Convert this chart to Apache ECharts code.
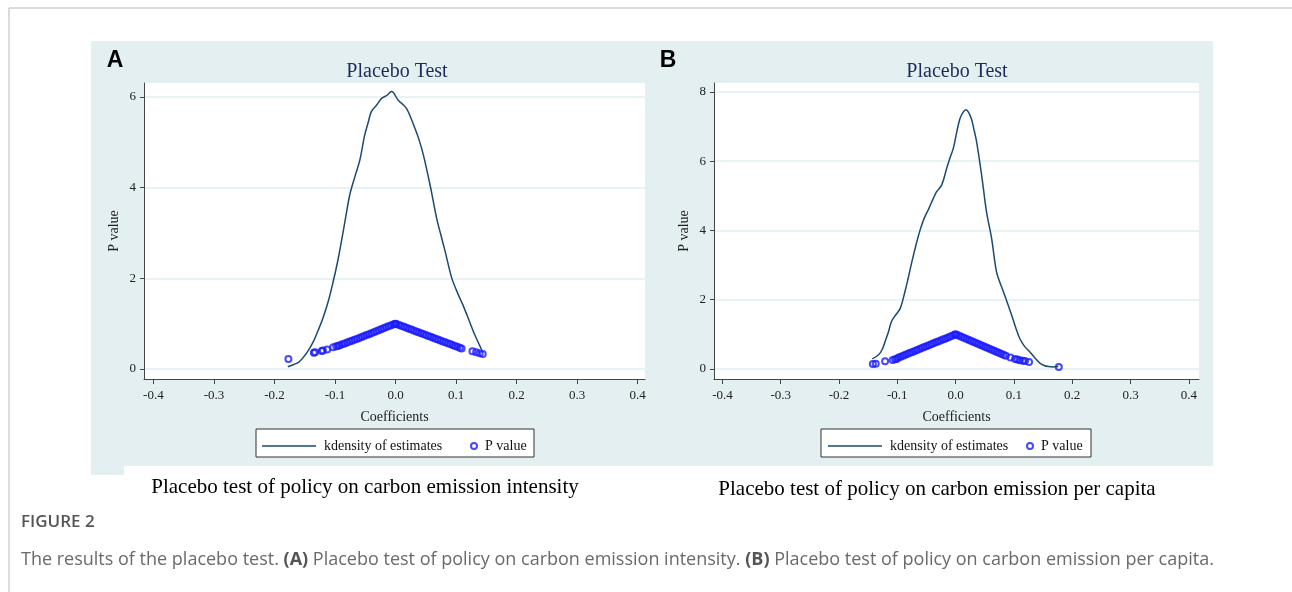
<!DOCTYPE html>
<html>
<head>
<meta charset="utf-8">
<script src="https://cdn.jsdelivr.net/npm/echarts@6/dist/echarts.min.js"></script>
<style>
  html, body { margin: 0; padding: 0; background: #fff; }
  #chart { width: 1292px; height: 592px; }
</style>
</head>
<body>
<div id="chart"></div>
<script>
// ticks
var xTicks = [-0.4, -0.3, -0.2, -0.1, 0, 0.1, 0.2, 0.3, 0.4];
var yTicksA = [0, 2, 4, 6];
var yTicksB = [0, 2, 4, 6, 8];

// panel A: kernel density of estimates [coef, density]
var densityA = [
  [-0.178, 0.05], [-0.168, 0.10], [-0.159, 0.16], [-0.147, 0.35], [-0.136, 0.60],
  [-0.128, 0.85], [-0.120, 1.12], [-0.111, 1.50], [-0.103, 1.93], [-0.096, 2.35],
  [-0.0895, 2.81], [-0.083, 3.30], [-0.0757, 3.84], [-0.067, 4.25], [-0.059, 4.61],
  [-0.051, 5.16], [-0.045, 5.45], [-0.040, 5.68], [-0.0315, 5.82], [-0.023, 5.97],
  [-0.015, 6.03], [-0.0066, 6.12], [0.0044, 5.93], [0.011, 5.85], [0.018, 5.75],
  [0.025, 5.55], [0.032, 5.31], [0.039, 5.05], [0.046, 4.72], [0.057, 4.06],
  [0.068, 3.32], [0.075, 2.95], [0.082, 2.59], [0.093, 2.00], [0.104, 1.63],
  [0.111, 1.42], [0.118, 1.19], [0.131, 0.75], [0.1425, 0.42]
];

// panel A: p values [coef, p]
var pvalueA = [
  [-0.177, 0.22], [-0.135, 0.36], [-0.133, 0.37], [-0.122, 0.40], [-0.120, 0.41],
  [-0.113, 0.43], [-0.103, 0.48], [-0.098, 0.50], [-0.095, 0.51],
  [-0.092, 0.525], [-0.088, 0.545], [-0.084, 0.565], [-0.080, 0.585], [-0.076, 0.605],
  [-0.072, 0.625], [-0.068, 0.645], [-0.064, 0.665], [-0.060, 0.686], [-0.056, 0.706],
  [-0.052, 0.727], [-0.048, 0.748], [-0.044, 0.769], [-0.040, 0.791], [-0.036, 0.812],
  [-0.032, 0.834], [-0.028, 0.856], [-0.024, 0.878], [-0.020, 0.900], [-0.016, 0.921],
  [-0.012, 0.942], [-0.008, 0.962], [-0.004, 0.981], [-0.001, 0.995], [0.000, 1.000],
  [0.002, 0.99], [0.006, 0.97], [0.010, 0.95], [0.014, 0.93], [0.018, 0.91],
  [0.022, 0.89], [0.026, 0.87], [0.030, 0.85], [0.034, 0.83], [0.038, 0.81],
  [0.042, 0.79], [0.046, 0.77], [0.050, 0.75], [0.054, 0.73], [0.058, 0.71],
  [0.062, 0.69], [0.066, 0.67], [0.070, 0.65], [0.074, 0.63], [0.078, 0.61],
  [0.082, 0.59], [0.086, 0.57], [0.090, 0.55], [0.094, 0.53], [0.098, 0.51],
  [0.102, 0.49], [0.106, 0.47], [0.109, 0.455],
  [0.127, 0.39], [0.133, 0.37], [0.139, 0.35], [0.144, 0.33]
];

// panel B: kernel density of estimates
var densityB = [
  [-0.143, 0.29], [-0.136, 0.36], [-0.130, 0.45], [-0.125, 0.60], [-0.121, 0.79],
  [-0.115, 1.08], [-0.110, 1.37], [-0.102, 1.58], [-0.095, 1.75], [-0.087, 2.23],
  [-0.081, 2.65], [-0.075, 3.10], [-0.068, 3.58], [-0.061, 4.01], [-0.054, 4.35],
  [-0.046, 4.63], [-0.039, 4.90], [-0.0326, 5.12], [-0.024, 5.31], [-0.0154, 5.79],
  [-0.010, 6.08], [-0.004, 6.37], [0.002, 6.85], [0.0074, 7.23], [0.013, 7.42],
  [0.0177, 7.49], [0.022, 7.42], [0.027, 7.23], [0.031, 6.95], [0.036, 6.56],
  [0.0446, 5.60], [0.053, 4.54], [0.0617, 3.77], [0.070, 2.81], [0.076, 2.50],
  [0.082, 2.23], [0.089, 1.90], [0.096, 1.56], [0.103, 1.20], [0.110, 0.88],
  [0.118, 0.66], [0.127, 0.50], [0.136, 0.32], [0.145, 0.16], [0.152, 0.10],
  [0.159, 0.07], [0.168, 0.06], [0.176, 0.07]
];

// panel B: p values
var pvalueB = [
  [-0.142, 0.14], [-0.137, 0.15], [-0.121, 0.22], [-0.108, 0.26], [-0.104, 0.28],
  [-0.101, 0.29],
  [-0.098, 0.33], [-0.094, 0.355], [-0.090, 0.383], [-0.086, 0.41], [-0.082, 0.438],
  [-0.078, 0.465], [-0.074, 0.493], [-0.070, 0.52], [-0.066, 0.548], [-0.062, 0.576],
  [-0.058, 0.603], [-0.054, 0.631], [-0.050, 0.658], [-0.046, 0.686], [-0.042, 0.713],
  [-0.038, 0.741], [-0.034, 0.768], [-0.030, 0.795], [-0.026, 0.822], [-0.022, 0.849],
  [-0.018, 0.876], [-0.014, 0.903], [-0.010, 0.93], [-0.006, 0.957], [-0.002, 0.985],
  [0.000, 1.0],
  [0.002, 0.986], [0.006, 0.957], [0.010, 0.928], [0.014, 0.899], [0.018, 0.870],
  [0.022, 0.841], [0.026, 0.812], [0.030, 0.784], [0.034, 0.755], [0.038, 0.727],
  [0.042, 0.698], [0.046, 0.669], [0.050, 0.641], [0.054, 0.612], [0.058, 0.584],
  [0.062, 0.555], [0.066, 0.527], [0.070, 0.498], [0.074, 0.47], [0.078, 0.441],
  [0.082, 0.412], [0.086, 0.385],
  [0.094, 0.33], [0.102, 0.29], [0.106, 0.27], [0.110, 0.25], [0.115, 0.24],
  [0.119, 0.23], [0.126, 0.20], [0.177, 0.06]
];

var serif = "'Liberation Serif', 'Times New Roman', serif";
var sans = "'Open Sans', 'Noto Sans', sans-serif";
var lineColor = '#1b4a72';
var dotColor = '#1a1aff';
var gridColor = '#e2eef2';
var panelBg = '#e3eff1';

function xAxisOpt(idx, min, max) {
  return {
    type: 'value', gridIndex: idx, min: min, max: max,
    name: 'Coefficients', nameLocation: 'middle', nameGap: 31,
    nameTextStyle: { fontFamily: serif, fontSize: 14, color: '#222' },
    axisLine: { onZero: false, lineStyle: { color: '#444', width: 1 } },
    axisTick: { customValues: xTicks, length: 5, lineStyle: { color: '#444' } },
    axisLabel: {
      customValues: xTicks, margin: 10,
      fontFamily: serif, fontSize: 13, color: '#222',
      formatter: function (v) { return v.toFixed(1); }
    },
    splitLine: { show: false }
  };
}

function yAxisOpt(idx, min, max, ticks) {
  return {
    type: 'value', gridIndex: idx, min: min, max: max,
    name: 'P value', nameLocation: 'middle', nameGap: 23, nameRotate: 90,
    nameTextStyle: { fontFamily: serif, fontSize: 14, color: '#222' },
    axisLine: { show: true, onZero: false, lineStyle: { color: '#444', width: 1 } },
    axisTick: { show: true, customValues: ticks, length: 4, lineStyle: { color: '#444' } },
    axisLabel: { customValues: ticks, margin: 8, fontFamily: serif, fontSize: 13, color: '#222' },
    splitLine: { show: true, lineStyle: { color: gridColor, width: 1.5 } }
  };
}

function legendOpt(name, icon, left, top, w, h) {
  return {
    data: [{ name: name, icon: icon }], left: left, top: top, padding: 0,
    itemWidth: w, itemHeight: h, itemGap: 0,
    selectedMode: false,
    textStyle: { fontFamily: serif, fontSize: 14, color: '#111', padding: [0, 0, 0, 3] }
  };
}

var chart = echarts.init(document.getElementById('chart'));

chart.setOption({
  animation: false,
  title: [
    { text: 'Placebo Test', left: 392, top: 57, textAlign: 'center',
      textStyle: { fontFamily: serif, fontSize: 20, fontWeight: 'normal', color: '#1e2b5e' } },
    { text: 'Placebo Test', left: 952, top: 57, textAlign: 'center',
      textStyle: { fontFamily: serif, fontSize: 20, fontWeight: 'normal', color: '#1e2b5e' } }
  ],
  grid: [
    { left: 144, right: 647, top: 83, bottom: 213, show: true, backgroundColor: '#fff', borderWidth: 0 },
    { left: 714, right: 93, top: 83, bottom: 213, show: true, backgroundColor: '#fff', borderWidth: 0 }
  ],
  xAxis: [xAxisOpt(0, -0.4155, 0.412), xAxisOpt(1, -0.4145, 0.4175)],
  yAxis: [yAxisOpt(0, -0.22, 6.31, yTicksA), yAxisOpt(1, -0.29, 8.26, yTicksB)],
  legend: [
    legendOpt('kdensity of estimates', 'rect', 262, 439, 54, 1.5),
    legendOpt('P value', 'circle', 470, 439, 6, 6),
    legendOpt('kdensity of estimates', 'rect', 828, 439, 54, 1.5),
    legendOpt('P value', 'circle', 1026, 439, 6, 6)
  ],
  series: [
    { name: 'kdensity of estimates', type: 'line', xAxisIndex: 0, yAxisIndex: 0,
      data: densityA, smooth: 0.35, symbol: 'none',
      lineStyle: { color: lineColor, width: 1.5 }, itemStyle: { color: lineColor } },
    { name: 'P value', type: 'scatter', xAxisIndex: 0, yAxisIndex: 0,
      data: pvalueA, symbol: 'circle', symbolSize: 6,
      itemStyle: { color: 'rgba(0,0,0,0)', borderColor: dotColor, borderWidth: 2 } },
    { name: 'kdensity of estimates', type: 'line', xAxisIndex: 1, yAxisIndex: 1,
      data: densityB, smooth: 0.35, symbol: 'none',
      lineStyle: { color: lineColor, width: 1.5 }, itemStyle: { color: lineColor } },
    { name: 'P value', type: 'scatter', xAxisIndex: 1, yAxisIndex: 1,
      data: pvalueB, symbol: 'circle', symbolSize: 6,
      itemStyle: { color: 'rgba(0,0,0,0)', borderColor: dotColor, borderWidth: 2 } }
  ],
  graphic: [
    // page frame
    { type: 'line', z: -20, shape: { x1: 9, y1: 8, x2: 1292, y2: 8 }, style: { stroke: '#cfcfcf', lineWidth: 1.5 } },
    { type: 'line', z: -20, shape: { x1: 9, y1: 8, x2: 9, y2: 592 }, style: { stroke: '#cfcfcf', lineWidth: 1.5 } },
    // panel background
    { type: 'rect', z: -10, shape: { x: 91, y: 41, width: 1122, height: 425 }, style: { fill: panelBg } },
    { type: 'rect', z: -10, shape: { x: 91, y: 466, width: 33, height: 9 }, style: { fill: panelBg } },
    // legend boxes
    { type: 'rect', z: 1, shape: { x: 256, y: 429, width: 278, height: 28 }, style: { fill: '#fff', stroke: '#333', lineWidth: 1 } },
    { type: 'rect', z: 1, shape: { x: 821, y: 429, width: 270, height: 28 }, style: { fill: '#fff', stroke: '#333', lineWidth: 1 } },
    // panel letters
    { type: 'text', x: 115, y: 61, style: { text: 'A', fontFamily: "'Liberation Sans', Arial, sans-serif", fontSize: 23, fontWeight: 'bold', fill: '#000', align: 'center', verticalAlign: 'middle' } },
    { type: 'text', x: 668, y: 61, style: { text: 'B', fontFamily: "'Liberation Sans', Arial, sans-serif", fontSize: 23, fontWeight: 'bold', fill: '#000', align: 'center', verticalAlign: 'middle' } },
    // panel captions
    { type: 'text', x: 365, y: 487, style: { text: 'Placebo test of policy on carbon emission intensity', fontFamily: serif, fontSize: 21, fill: '#000', align: 'center', verticalAlign: 'middle' } },
    { type: 'text', x: 937, y: 489, style: { text: 'Placebo test of policy on carbon emission per capita', fontFamily: serif, fontSize: 21, fill: '#000', align: 'center', verticalAlign: 'middle' } },
    // figure caption
    { type: 'text', x: 21, y: 522, style: { text: 'FIGURE 2', fontFamily: sans, fontSize: 17, fontWeight: 600, fill: '#555', verticalAlign: 'middle' } },
    { type: 'text', x: 21, y: 560, style: {
        text: 'The results of the placebo test. {b|(A)} Placebo test of policy on carbon emission intensity. {b|(B)} Placebo test of policy on carbon emission per capita.',
        fontFamily: sans, fontSize: 18, fill: '#6a6a6a', verticalAlign: 'middle',
        rich: { b: { fontFamily: sans, fontSize: 18, fontWeight: 'bold', fill: '#555' } }
      } }
  ]
});
</script>
</body>
</html>
